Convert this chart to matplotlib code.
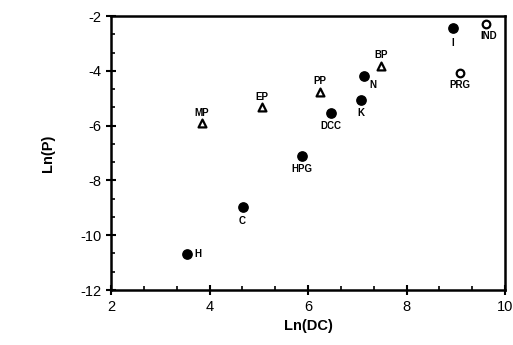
import matplotlib
matplotlib.use('Agg')
import matplotlib.pyplot as plt
from matplotlib.ticker import MultipleLocator

# filled circles
fill_names = ['I', 'N', 'K', 'DCC', 'HPG', 'C', 'H']
fill_x = [8.94, 7.14, 7.08, 6.47, 5.88, 4.67, 3.55]
fill_y = [-2.45, -4.18, -5.07, -5.53, -7.11, -8.98, -10.70]

# open circles
open_names = ['IND', 'PRG']
open_x = [9.61, 9.09]
open_y = [-2.29, -4.07]

# triangles
tri_names = ['BP', 'PP', 'EP', 'MP']
tri_x = [7.48, 6.24, 5.06, 3.84]
tri_y = [-3.81, -4.76, -5.33, -5.92]

# where each label sits relative to its point (points offset)
label_pos = {
    'I': (0, -7, 'center', 'top'),
    'N': (4, -3, 'left', 'top'),
    'K': (0, -6, 'center', 'top'),
    'DCC': (0, -6, 'center', 'top'),
    'HPG': (0, -6, 'center', 'top'),
    'C': (0, -6, 'center', 'top'),
    'H': (5, 0, 'left', 'center'),
    'IND': (2, -5, 'center', 'top'),
    'PRG': (0, -5, 'center', 'top'),
    'BP': (0, 4, 'center', 'bottom'),
    'PP': (0, 4, 'center', 'bottom'),
    'EP': (0, 4, 'center', 'bottom'),
    'MP': (0, 4, 'center', 'bottom'),
}

plt.rcParams['font.family'] = ['Liberation Sans', 'DejaVu Sans']
plt.rcParams['axes.unicode_minus'] = False

fig = plt.figure(figsize=(5.13, 3.45), dpi=100)
ax = fig.add_axes([0.2164, 0.1594, 0.768, 0.7942])

ax.scatter(fill_x, fill_y, s=45, c='black', zorder=3)
ax.scatter(open_x, open_y, s=30, facecolors='white', edgecolors='black', linewidths=1.6, zorder=3)
ax.scatter(tri_x, tri_y, s=32, marker='^', facecolors='white', edgecolors='black', linewidths=1.6, zorder=3)

for names, xs, ys in [(fill_names, fill_x, fill_y), (open_names, open_x, open_y), (tri_names, tri_x, tri_y)]:
    for n, x, y in zip(names, xs, ys):
        dx, dy, ha, va = label_pos[n]
        ax.annotate(n, (x, y), xytext=(dx, dy), textcoords='offset points',
                    ha=ha, va=va, fontsize=7, fontweight='bold')

ax.set_xlim(2, 10)
ax.set_ylim(-12, -2)
ax.xaxis.set_major_locator(MultipleLocator(2))
ax.yaxis.set_major_locator(MultipleLocator(2))
ax.xaxis.set_minor_locator(MultipleLocator(2 / 3))
ax.yaxis.set_minor_locator(MultipleLocator(2 / 3))
ax.tick_params(which='major', direction='inout', length=7, width=1.5, labelsize=10.5)
ax.tick_params(which='minor', direction='in', length=3, width=1.2)

for s in ax.spines.values():
    s.set_linewidth(1.8)

ax.set_xlabel('Ln(DC)', fontsize=10.5, fontweight='bold', labelpad=4)
ax.set_ylabel('Ln(P)', fontsize=10.5, fontweight='bold', labelpad=18)

fig.savefig('out.png', dpi=100)
